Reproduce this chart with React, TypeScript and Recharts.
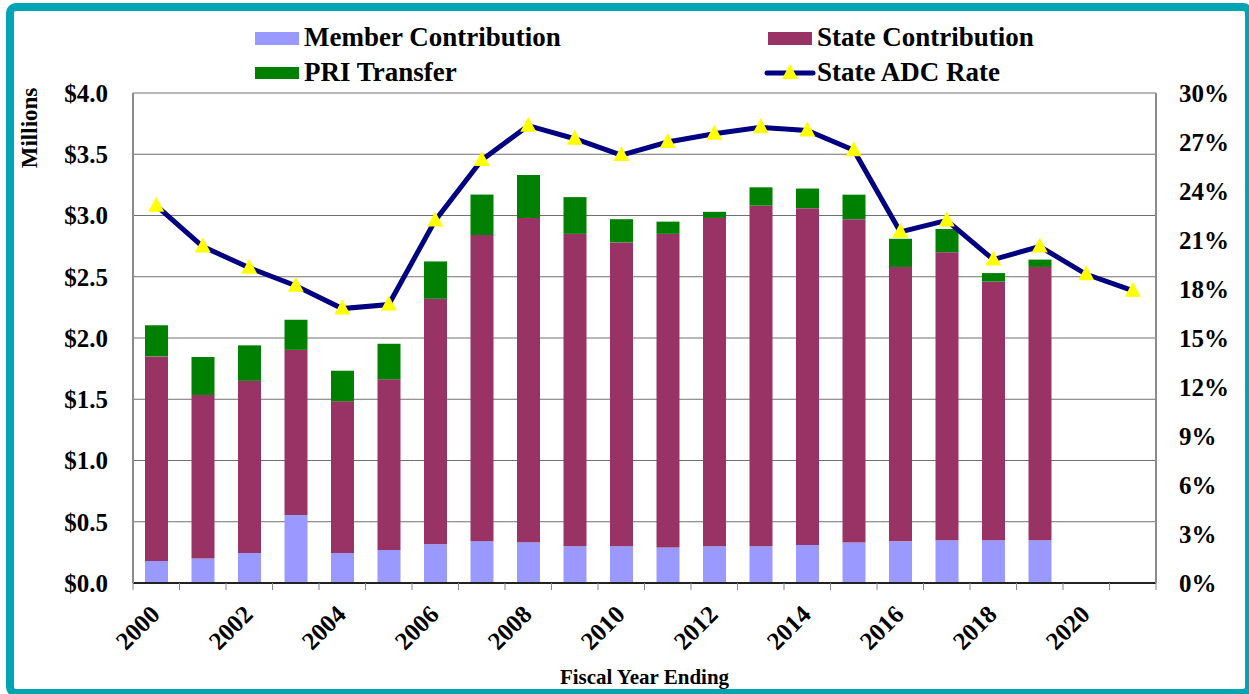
import { Bar, CartesianGrid, ComposedChart, Legend, Line, XAxis, YAxis } from 'recharts';

const years = [
  '2000', '2001', '2002', '2003', '2004', '2005', '2006', '2007', '2008', '2009', '2010',
  '2011', '2012', '2013', '2014', '2015', '2016', '2017', '2018', '2019', '2020', '2021'
];
// $ millions
const memberContribution = [
  0.18, 0.2, 0.245, 0.556, 0.245, 0.27, 0.316, 0.341, 0.333, 0.3, 0.3,
  0.29, 0.3, 0.3, 0.31, 0.33, 0.34, 0.35, 0.35, 0.35, null, null
];
const stateContribution = [
  1.67, 1.335, 1.405, 1.347, 1.238, 1.393, 2.004, 2.5, 2.647, 2.55, 2.48,
  2.56, 2.68, 2.78, 2.75, 2.64, 2.24, 2.35, 2.11, 2.23, null, null
];
const priTransfer = [
  0.254, 0.31, 0.29, 0.246, 0.25, 0.29, 0.305, 0.33, 0.35, 0.3, 0.19,
  0.1, 0.05, 0.15, 0.16, 0.2, 0.23, 0.19, 0.07, 0.06, null, null
];
// percent
const stateAdcRate = [
  23.1, 20.6, 19.3, 18.2, 16.8, 17.05, 22.2, 25.9, 28.0, 27.2, 26.2,
  27.0, 27.5, 27.9, 27.7, 26.5, 21.5, 22.2, 19.8, 20.6, 18.9, 17.9
];
const dollarTicks = [0, 0.5, 1, 1.5, 2, 2.5, 3, 3.5, 4];
const pctTicks = [0, 3, 6, 9, 12, 15, 18, 21, 24, 27, 30];

const data = years.map((year, i) => ({
  year,
  member: memberContribution[i],
  state: stateContribution[i],
  pri: priTransfer[i],
  rate: stateAdcRate[i]
}));

const FONT = '"Liberation Serif", "Times New Roman", serif';
const W = 1249;
const H = 694;
const PLOT_LEFT = 133;
const PLOT_RIGHT = 1156;
const PLOT_BOTTOM = 583;
const BAND = (PLOT_RIGHT - PLOT_LEFT) / years.length;

const COLORS = {
  member: '#9999FF',
  state: '#993366',
  pri: '#008000',
  rate: '#000080',
  marker: '#FFFF00'
};

function Triangle({ cx, cy }: { cx?: number; cy?: number }) {
  if (cx == null || cy == null) return null;
  return (
    <polygon
      points={`${cx},${cy - 9} ${cx - 8},${cy + 6} ${cx + 8},${cy + 6}`}
      fill={COLORS.marker}
    />
  );
}

function YearTick(props: any) {
  const { x, payload } = props;
  const idx = years.indexOf(String(payload.value));
  const half = BAND / 2;
  return (
    <g>
      <line x1={x - half} x2={x - half} y1={PLOT_BOTTOM} y2={PLOT_BOTTOM + 7} stroke="#888" />
      {idx === years.length - 1 && (
        <line x1={x + half} x2={x + half} y1={PLOT_BOTTOM} y2={PLOT_BOTTOM + 7} stroke="#888" />
      )}
      {idx % 2 === 0 && (
        <text
          transform={`translate(${x + 5},616) rotate(-45)`}
          textAnchor="end"
          fontFamily={FONT}
          fontWeight="bold"
          fontSize={25}
          fill="#000"
        >
          {payload.value}
        </text>
      )}
    </g>
  );
}

function ChartLegend() {
  const txt = { fontFamily: FONT, fontWeight: 'bold' as const, fontSize: 27, fill: '#000' };
  return (
    <svg width={W} height={90} style={{ display: 'block' }}>
      <rect x={255} y={32} width={44} height={13} fill={COLORS.member} />
      <text x={304} y={46} {...txt}>Member Contribution</text>
      <rect x={768} y={32} width={44} height={13} fill={COLORS.state} />
      <text x={817} y={46} {...txt}>State Contribution</text>
      <rect x={255} y={67} width={44} height={12} fill={COLORS.pri} />
      <text x={304} y={81} {...txt}>PRI Transfer</text>
      <line x1={767} x2={813} y1={73} y2={73} stroke={COLORS.rate} strokeWidth={5} strokeLinecap="round" />
      <Triangle cx={790} cy={73} />
      <text x={817} y={81} {...txt}>State ADC Rate</text>
    </svg>
  );
}

export default function App() {
  const tickStyle = { fontFamily: FONT, fontWeight: 'bold', fontSize: 25, fill: '#000' };
  return (
    <div style={{ position: 'absolute', left: 0, top: 0, width: W, height: H, overflow: 'hidden', background: '#fff' }}>
      <div
        style={{
          position: 'absolute',
          left: 6,
          top: 3,
          width: 1231,
          height: 678,
          border: '8px solid #00A5B3',
          borderRadius: 10,
          background: '#fff'
        }}
      />
      <div style={{ position: 'absolute', left: 0, top: 0 }}>
        <ComposedChart width={W} height={H} data={data} margin={{ top: 93, right: 0, bottom: 0, left: 0 }}>
          <CartesianGrid yAxisId="left" vertical={false} stroke="#707070" />
          <XAxis
            dataKey="year"
            interval={0}
            height={111}
            tickLine={false}
            axisLine={{ stroke: '#222', strokeWidth: 2 }}
            tick={YearTick}
            label={() => (
              <text x={(PLOT_LEFT + PLOT_RIGHT) / 2} y={684} textAnchor="middle" fontFamily={FONT} fontWeight="bold" fontSize={21} fill="#000">
                Fiscal Year Ending
              </text>
            )}
          />
          <YAxis
            yAxisId="left"
            width={133}
            domain={[0, 4]}
            ticks={dollarTicks}
            tickFormatter={(v) => `$${Number(v).toFixed(1)}`}
            tickLine={false}
            tickMargin={19}
            axisLine={{ stroke: '#8c8c8c', strokeWidth: 2 }}
            tick={tickStyle}
            label={() => (
              <text transform="translate(37,128) rotate(-90)" textAnchor="middle" fontFamily={FONT} fontWeight="bold" fontSize={23} fill="#000">
                Millions
              </text>
            )}
          />
          <YAxis
            yAxisId="right"
            orientation="right"
            width={93}
            domain={[0, 30]}
            ticks={pctTicks}
            tickFormatter={(v) => `${v}%`}
            tickLine={false}
            tickMargin={17}
            axisLine={{ stroke: '#8c8c8c', strokeWidth: 2 }}
            tick={{ ...tickStyle, textAnchor: 'start' }}
          />
          <Legend
            layout="vertical"
            align="center"
            verticalAlign="middle"
            content={ChartLegend}
            wrapperStyle={{ left: 0, top: 0, width: W, height: 90 }}
          />
          <Bar yAxisId="left" dataKey="member" name="Member Contribution" stackId="a" barSize={23} fill={COLORS.member} isAnimationActive={false} />
          <Bar yAxisId="left" dataKey="state" name="State Contribution" stackId="a" barSize={23} fill={COLORS.state} isAnimationActive={false} />
          <Bar yAxisId="left" dataKey="pri" name="PRI Transfer" stackId="a" barSize={23} fill={COLORS.pri} isAnimationActive={false} />
          <Line
            yAxisId="right"
            dataKey="rate"
            name="State ADC Rate"
            stroke={COLORS.rate}
            strokeWidth={5}
            dot={(p: any) => <Triangle key={p.index} cx={p.cx} cy={p.cy} />}
            activeDot={false}
            isAnimationActive={false}
          />
        </ComposedChart>
      </div>
    </div>
  );
}
